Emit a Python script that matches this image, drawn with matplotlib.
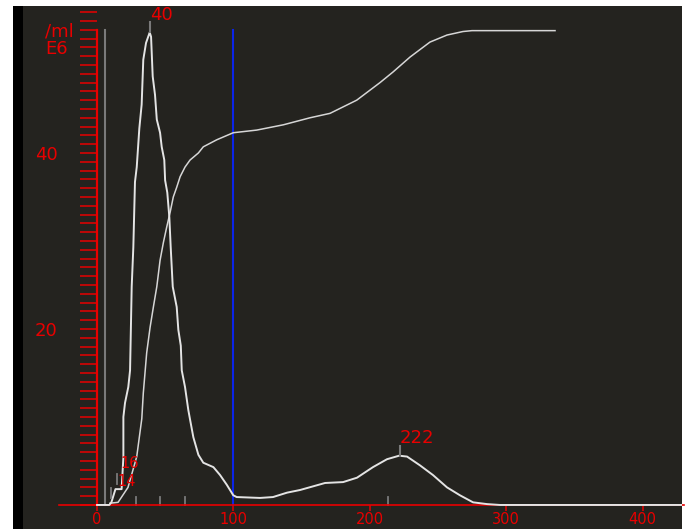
import matplotlib
matplotlib.use("Agg")
import matplotlib.pyplot as plt
from matplotlib.patches import Rectangle
from matplotlib.ticker import FixedLocator, NullFormatter

# ---- data (size channel vs. concentration, E6 / ml) ----
dist_x = [0, 9, 10.5, 13.5, 18, 19.3, 19.3, 20.5, 22.9, 24.2, 25.4, 26.6, 27.8, 29.1, 31.0,
          32.7, 33.9, 35.9, 38.6, 39.6, 40.8, 42.5, 43.8, 46.2, 47.4, 49.3, 49.9, 51.5, 53.0,
          54.0, 55.5, 58.4, 59.6, 61.4, 62.1, 64.5, 66.9, 68.2, 70.6, 74.3, 77.9, 85.3, 90.2,
          95.1, 99.9, 102.4, 119.5, 129.0, 139.3, 148.8, 167.2, 180.4, 190.6, 202.3, 212.6,
          221.5, 227.3, 236.8, 246.3, 256.6, 266.1, 275.7, 285.9, 295.5, 430]
dist_y = [0, 0, 0.3, 1.8, 1.8, 5.4, 10.0, 11.6, 13.4, 15.3, 24.8, 29.3, 36.7, 38.4, 42.8,
          45.5, 50.6, 52.5, 53.7, 53.2, 48.7, 46.6, 43.8, 42.3, 40.7, 39.2, 36.9, 35.5, 32.7,
          29.3, 24.8, 22.5, 19.9, 18.1, 15.3, 13.4, 10.8, 9.7, 7.7, 5.7, 4.8, 4.3, 3.4,
          2.3, 1.1, 0.9, 0.8, 0.9, 1.4, 1.7, 2.5, 2.6, 3.1, 4.3, 5.2,
          5.6, 5.5, 4.5, 3.4, 2.0, 1.1, 0.3, 0.1, 0, 0]

cum_x = [9.5, 15.4, 22.7, 29.1, 32.8, 33.9, 36.4, 38.9, 41.3, 43.8, 46.2, 48.6, 51.1, 53.5,
         55.9, 58.4, 60.9, 64.5, 68.2, 74.3, 77.9, 87.8, 99.9, 117.1, 136.6, 156.2, 170.8,
         190.4, 207.5, 217.0, 229.5, 244.1, 256.6, 268.3, 274.9, 335.8]
cum_y = [0.2, 0.3, 2.0, 5.5, 9.8, 12.7, 17.3, 20.2, 22.5, 24.8, 27.8, 29.8, 31.6, 33.2,
         35.0, 36.1, 37.3, 38.4, 39.2, 40.0, 40.7, 41.5, 42.3, 42.6, 43.2, 44.0, 44.5,
         46.0, 48.0, 49.2, 50.9, 52.6, 53.4, 53.8, 53.9, 53.9]

peak_pos = [39, 222]
peak_val = [53.7, 5.6]
peak_labels = ["40", "222"]

small_peak_pos = [14.7, 10.5]
small_peak_labels = ["14", "16"]

marker_pos = [28.6, 46, 64.5, 213]      # grey channel markers on baseline
gate_left = 5.9                          # grey cursor
gate_right = 100                         # blue cursor

x_ticks = [0, 100, 200, 300, 400]
x_tick_labels = ["0", "100", "200", "300", "400"]
y_major = [20, 40]
y_major_labels = ["20", "40"]
y_minor = list(range(0, 57))
unit_top = "/ml"
unit_bottom = "E6"

# ---- style ----
RED = "#e80000"
PANEL = "#24231f"
LINE = "#e4e4e4"
GREY = "#7a7a7a"
BLUE = "#0b24e8"
FS = 13

W, H = 689, 529
fig = plt.figure(figsize=(W / 100, H / 100), dpi=100)
fig.patch.set_facecolor("white")
top_px, left_px, right_px = 6, 23, 682
ax = fig.add_axes([left_px / W, 0, (right_px - left_px) / W, (H - top_px) / H])
ax.set_facecolor(PANEL)
fig.add_artist(Rectangle((13 / W, 0), 10 / W, (H - top_px) / H, transform=fig.transFigure,
                         facecolor="black", edgecolor="none"))

ax.set_xlim(-54.3, 428.9)
ax.set_ylim(-2.73, 56.7)

for s in ["top", "right"]:
    ax.spines[s].set_visible(False)
ax.spines["left"].set_position(("data", 0))
ax.spines["left"].set_bounds(0, 54)
ax.spines["left"].set_color(RED)
ax.spines["left"].set_linewidth(1.6)
ax.spines["bottom"].set_position(("data", 0))
ax.spines["bottom"].set_bounds(-28, 430)
ax.spines["bottom"].set_color(RED)
ax.spines["bottom"].set_linewidth(1.2)

ax.yaxis.set_major_locator(FixedLocator(y_major))
ax.set_yticklabels(y_major_labels)
ax.yaxis.set_minor_locator(FixedLocator([v for v in y_minor if v not in y_major]))
ax.yaxis.set_minor_formatter(NullFormatter())
ax.tick_params(axis="y", which="both", direction="out", length=12.3, width=1.1,
               color=RED, labelcolor=RED, labelsize=FS, pad=16)
ax.xaxis.set_major_locator(FixedLocator(x_ticks))
ax.set_xticklabels(x_tick_labels)
ax.tick_params(axis="x", which="major", direction="out", length=4.5, width=1.1,
               color=RED, labelcolor=RED, labelsize=10.5, pad=0.5)

# cursors
ax.plot([gate_left, gate_left], [0, 54], color=GREY, lw=1.5, zorder=2)
ax.plot([gate_right, gate_right], [0, 54], color=BLUE, lw=1.5, zorder=2)

# baseline markers
for m in marker_pos:
    ax.plot([m, m], [0, 0.9], color=GREY, lw=1.3, zorder=2)

# curves
ax.plot(cum_x, cum_y, color="#d6d6d6", lw=1.1, zorder=3)
ax.plot(dist_x, dist_y, color=LINE, lw=1.4, zorder=4)

# peak labels
for p, v, lab in zip(peak_pos, peak_val, peak_labels):
    ax.plot([p, p], [v, v + 1.15], color=GREY, lw=1.5, zorder=5)
    ax.text(p - 0.5, v + 1.45, lab, color=RED, fontsize=FS, ha="left", va="baseline", zorder=6)

ax.plot([small_peak_pos[0], small_peak_pos[0]], [2.4, 3.5], color=GREY, lw=1.3, zorder=5)
ax.plot([small_peak_pos[1], small_peak_pos[1]], [0.8, 1.9], color=GREY, lw=1.3, zorder=5)
ax.text(15.3, 2.2, small_peak_labels[0], color=RED, fontsize=10.5, ha="left",
        va="baseline", zorder=6)
ax.text(17.0, 4.25, small_peak_labels[1], color=RED, fontsize=10.5, ha="left",
        va="baseline", zorder=6)

# unit labels
ax.text(-38.1, 53.75, unit_top, color=RED, fontsize=FS, ha="left", va="center")
ax.text(-38.1, 51.8, unit_bottom, color=RED, fontsize=FS, ha="left", va="center")

fig.savefig("out.png", dpi=100, facecolor=fig.get_facecolor())
